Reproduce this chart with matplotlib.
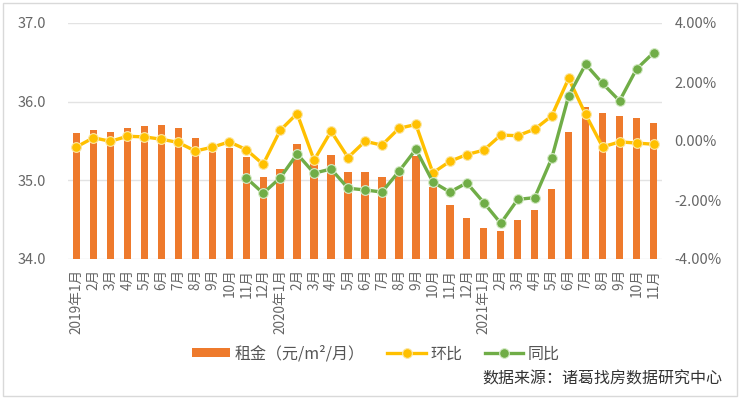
import matplotlib
matplotlib.use("Agg")
import matplotlib.pyplot as plt
from matplotlib.patches import Rectangle
from matplotlib.ticker import FixedLocator, FuncFormatter
import numpy as np

plt.rcParams['font.family'] = ['Noto Sans CJK SC', 'DejaVu Sans']

months = ["2019年1月", "2月", "3月", "4月", "5月", "6月", "7月", "8月", "9月", "10月", "11月", "12月",
          "2020年1月", "2月", "3月", "4月", "5月", "6月", "7月", "8月", "9月", "10月", "11月", "12月",
          "2021年1月", "2月", "3月", "4月", "5月", "6月", "7月", "8月", "9月", "10月", "11月"]

rent = [35.60, 35.64, 35.62, 35.66, 35.69, 35.70, 35.67, 35.54, 35.36, 35.41, 35.30, 35.04,
        35.15, 35.46, 35.21, 35.32, 35.11, 35.11, 35.04, 35.07, 35.31, 34.91, 34.69, 34.52,
        34.40, 34.36, 34.50, 34.62, 34.89, 35.62, 35.93, 35.85, 35.82, 35.79, 35.73]

mom = [-0.20, 0.11, -0.01, 0.16, 0.14, 0.06, -0.05, -0.34, -0.21, -0.03, -0.29, -0.79,
       0.36, 0.93, -0.65, 0.33, -0.56, -0.01, -0.14, 0.43, 0.56, -1.08, -0.69, -0.46,
       -0.31, 0.20, 0.18, 0.40, 0.85, 2.12, 0.90, -0.20, -0.03, -0.07, -0.11]

yoy = [np.nan] * 10 + [-1.25, -1.77,
       -1.25, -0.44, -1.09, -0.95, -1.60, -1.66, -1.73, -1.03, -0.28, -1.39, -1.73, -1.42,
       -2.09, -2.79, -1.98, -1.92, -0.59, 1.53, 2.60, 1.95, 1.36, 2.44, 2.99]

left_ticks = [34.0, 35.0, 36.0, 37.0]
right_ticks = [-4, -2, 0, 2, 4]

W, H = 740, 399
fig = plt.figure(figsize=(W / 100, H / 100), dpi=100)
ax = fig.add_axes([68 / W, 1 - 259 / H, (662 - 68) / W, (259 - 23) / H])
ax2 = ax.twinx()

x = np.arange(len(months))
bars = ax.bar(x, rent, width=0.43, color='#EE7A2C', zorder=2, label='租金（元/m²/月）')
ax.set_ylim(34.0, 37.0)
ax.set_xlim(-0.5, len(months) - 0.5)
ax.yaxis.set_major_locator(FixedLocator(left_ticks))
ax.yaxis.set_major_formatter(FuncFormatter(lambda v, p: f"{v:.1f}"))
ax.grid(axis='y', color='#E3E3E3', linewidth=1, zorder=0)
ax.set_axisbelow(True)
ax.set_xticks(x)
ax.set_xticklabels(months, rotation=90, ha='center', va='top', fontsize=9.8, color='#666666')
ax.tick_params(axis='x', length=0, pad=7)
ax.tick_params(axis='y', length=0, pad=16, labelsize=10.5, labelcolor='#666666')
for s in ax.spines.values():
    s.set_visible(False)

l1, = ax2.plot(x, mom, color='#FFC000', linewidth=2.4, marker='o', markersize=7,
               markerfacecolor='#FFC000', markeredgecolor='#FBE7A6', markeredgewidth=0.8,
               label='环比', zorder=3)
l2, = ax2.plot(x, yoy, color='#70AD47', linewidth=2.4, marker='o', markersize=7,
               markerfacecolor='#70AD47', markeredgecolor='#D6EBC8', markeredgewidth=0.8,
               label='同比', zorder=4)
ax2.set_ylim(-4, 4)
ax2.yaxis.set_major_locator(FixedLocator(right_ticks))
ax2.yaxis.set_major_formatter(FuncFormatter(lambda v, p: f"{v:.2f}%"))
ax2.tick_params(axis='y', length=0, pad=9, labelsize=10.5, labelcolor='#666666')
for s in ax2.spines.values():
    s.set_visible(False)

leg = fig.legend(handles=[bars, l1, l2], loc='center', bbox_to_anchor=(376 / W, 1 - 354 / H),
                 ncol=3, frameon=False, fontsize=11.5, handlelength=2.4, handleheight=0.5,
                 handletextpad=0.3, columnspacing=1.4, labelcolor='#555555')

fig.text(722 / W, 1 - 379 / H, '数据来源：诸葛找房数据研究中心', ha='right', va='center',
         fontsize=11.5, style='italic', color='#333333')

fig.patches.append(Rectangle((3 / W, 3 / H), 734 / W, 393 / H, transform=fig.transFigure,
                             fill=False, edgecolor='#D9D9D9', linewidth=1))

fig.savefig('out.png', dpi=100)
